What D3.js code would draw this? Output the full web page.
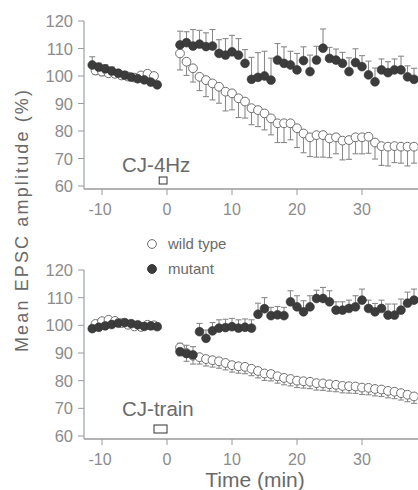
<!DOCTYPE html>
<html>
<head>
<meta charset="utf-8">
<script src="https://cdn.jsdelivr.net/npm/d3@7"></script>
<style>
  html, body { margin: 0; padding: 0; background: #fff; }
  svg { display: block; font-family: "Liberation Sans", Arial, Helvetica, sans-serif; }
</style>
</head>
<body>
<svg id="stage"></svg>
<script>
/* ---------- data ---------- */

const x_ticks = [-10, 0, 10, 20, 30];
const y_ticks = [60, 70, 80, 90, 100, 110, 120];

// baseline period, one point per minute
const pre_t_mut = [-11.5, -10.5, -9.5, -8.5, -7.5, -6.5, -5.5, -4.5, -3.5, -2.5, -1.5];
const pre_t_wt = [-11, -10, -9, -8, -7, -6, -5, -4, -3, -2];
// after conditioning
const post_t = [2, 3, 4, 5, 6, 7, 8, 9, 10, 11, 12, 13, 14, 15, 16, 17, 18, 19, 20,
  21, 22, 23, 24, 25, 26, 27, 28, 29, 30, 31, 32, 33, 34, 35, 36, 37, 38];

// CJ-4Hz
const hz_mut_pre = [104, 103.2, 102.6, 101.8, 101, 100.3, 99.6, 99, 98.6, 97.8, 96.8];
const hz_mut_pre_err = [3, 1.5, 1.5, 1.5, 1.2, 1.2, 1.2, 1.2, 1.2, 1.2, 1.2];
const hz_wt_pre = [102, 101.6, 101, 100.8, 100.2, 99.8, 99.4, 100.2, 100.8, 100];
const hz_wt_pre_err = [1.5, 1.5, 1.2, 1.2, 1.2, 1.2, 1.2, 1.5, 1.5, 1.5];
const hz_mut_post = [111.3, 112.1, 110.9, 111.6, 110.7, 110.9, 108.2, 107.6, 108.8, 107.6,
  104.6, 98.8, 99.5, 100, 98.5, 105.8, 104.6, 104, 102.2, 105.6, 101.6, 105.8, 110.1, 106.4,
  105.8, 104.6, 101.6, 104.9, 103.4, 100.4, 97.9, 102.2, 101.2, 102.2, 102.2, 99.7, 98.8];
const hz_mut_post_err = [5, 4, 6, 5, 5, 6, 5, 6, 6, 6, 5, 8, 9, 9, 8, 6, 6, 5, 6, 5, 6, 5,
  7, 4, 4, 4, 5, 5, 4, 5, 5, 4, 4, 4, 5, 4, 4];
const hz_wt_post = [108.2, 105.2, 102.8, 99.7, 98.5, 97.3, 96.1, 94.3, 93.7, 91.9, 90.7,
  88.3, 87.6, 86.4, 84.6, 82.8, 82.8, 82.8, 81, 79.1, 77.7, 78.5, 78.5, 77.3, 77.7, 76.5,
  76.7, 77.7, 77.7, 77.9, 75.8, 74.5, 74.3, 74.5, 74.3, 74.3, 74.3];
const hz_wt_post_err = [6, 5, 5, 5, 6, 6, 6, 7, 6, 7, 6, 6, 6, 6, 6, 7, 7, 6, 7, 7, 7, 8,
  8, 7, 6, 7, 7, 6, 6, 6, 6, 7, 7, 6, 6, 7, 6];

// CJ-train
const tr_mut_pre = [98.8, 99.3, 99.8, 100.3, 100.8, 101, 100.6, 100.2, 99.6, 99.8, 99.5];
const tr_mut_pre_err = [1, 1, 1, 1, 1, 1, 1, 1, 1, 1, 1];
const tr_wt_pre = [100.5, 101.5, 102, 101.6, 100.8, 100.2, 99.6, 99.4, 100.2, 100];
const tr_wt_pre_err = [1, 1, 1, 1, 1, 1, 1, 1, 1, 1];
const tr_mut_post = [90.5, 89.8, 89.3, 97.7, 95.3, 98, 99, 99.2, 99.5, 99, 99.3, 99, 104,
  106, 103.5, 103.8, 103.5, 108.5, 106.7, 104.9, 106.7, 109.7, 109.7, 108.5, 105.5, 105.5,
  106.1, 106.7, 109.1, 106.1, 104.9, 106.1, 103.7, 103.7, 105.5, 108, 109.1];
const tr_mut_post_err = [3, 3, 3, 3, 3, 3, 3, 3, 3, 3, 3, 3, 4, 4, 3, 3, 3, 4, 4, 4, 4, 3,
  4, 4, 3, 3, 3, 4, 4, 3, 3, 3, 4, 4, 4, 4, 4];
const tr_wt_post = [92, 90, 89, 88.5, 87.8, 87.4, 87, 86.4, 85.6, 85.2, 85, 84.3, 83.5,
  82.6, 82.4, 81.6, 81, 80.6, 80, 79.8, 79.6, 79.1, 79, 78.7, 78.5, 78.1, 78, 77.9, 77.5,
  77.4, 77, 76.8, 76.3, 76, 75.5, 74.9, 74.3];
const tr_wt_post_err = [3, 3, 3, 2.5, 2.5, 2.5, 2.5, 2.5, 2.5, 2.5, 2.5, 2.5, 2.5, 2.5,
  2.5, 2.5, 2.5, 2.5, 2.5, 2.5, 2.5, 2.5, 2.5, 2.5, 2.5, 2.5, 2.5, 2.5, 2.5, 2.5, 2.5, 2.5,
  2.5, 2.5, 2.5, 2.5, 2.5];

/* ---------- setup ---------- */

const width = 418;
const height = 490;

const svg = d3.select("#stage")
  .attr("width", width)
  .attr("height", height);

const x = d3.scaleLinear().domain([-10, 30]).range([102, 362]);

const axis_col = "#9a9a9a";
const tick_text_col = "#8c8c8c";
const label_col = "#6a6a6a";
const dot_r = 4.4;

function zip(ts, vs, es) {
  return ts.map((t, i) => ({ t, v: vs[i], e: es[i] }));
}

/* ---------- one panel ---------- */

function panel(cfg) {
  const y = d3.scaleLinear().domain([60, 120]).range([cfg.y60, cfg.y120]);
  const g = svg.append("g");

  // axes
  g.append("line")
    .attr("x1", 84).attr("x2", 84)
    .attr("y1", y(120)).attr("y2", cfg.base)
    .attr("stroke", "#98a2aa").attr("stroke-width", 1.2);
  g.append("line")
    .attr("x1", 84).attr("x2", width)
    .attr("y1", cfg.base).attr("y2", cfg.base)
    .attr("stroke", axis_col).attr("stroke-width", 1.4);

  g.selectAll(".ytick").data(y_ticks).join("line")
    .attr("x1", 78).attr("x2", 84)
    .attr("y1", d => y(d)).attr("y2", d => y(d))
    .attr("stroke", axis_col).attr("stroke-width", 1);
  g.selectAll(".ylab").data(y_ticks).join("text")
    .attr("x", 73).attr("y", d => y(d) + 6)
    .attr("text-anchor", "end")
    .attr("font-size", 16.5)
    .attr("fill", tick_text_col)
    .text(d => d);

  g.selectAll(".xtick").data(x_ticks).join("line")
    .attr("x1", d => x(d)).attr("x2", d => x(d))
    .attr("y1", cfg.base).attr("y2", cfg.base + 6)
    .attr("stroke", axis_col).attr("stroke-width", 1);
  g.selectAll(".xlab").data(x_ticks).join("text")
    .attr("x", d => x(d) - (d < 0 ? 2 : 0)).attr("y", cfg.base + 26)
    .attr("text-anchor", "middle")
    .attr("font-size", 16)
    .attr("fill", tick_text_col)
    .text(d => d < 0 ? "-" + Math.abs(d) : d);

  // stimulation marker
  g.append("rect")
    .attr("x", x(cfg.stim[0])).attr("y", cfg.stim_y)
    .attr("width", x(cfg.stim[1]) - x(cfg.stim[0])).attr("height", cfg.stim_h)
    .attr("fill", "#fff").attr("stroke", "#333").attr("stroke-width", 1);

  // condition label
  g.append("text")
    .attr("x", 122).attr("y", cfg.label_y)
    .attr("font-size", 20.5)
    .attr("fill", label_col)
    .text(cfg.label);

  const mut = zip(pre_t_mut, cfg.mut_pre, cfg.mut_pre_err)
    .concat(zip(post_t, cfg.mut_post, cfg.mut_post_err));
  const wt = zip(pre_t_wt, cfg.wt_pre, cfg.wt_pre_err)
    .concat(zip(post_t, cfg.wt_post, cfg.wt_post_err));

  const bar_col = "#8a8a8a";

  function error_bars(data, dir) {
    const eg = g.append("g").attr("stroke", bar_col).attr("stroke-width", 1.1);
    eg.selectAll("line.s").data(data).join("line")
      .attr("x1", d => x(d.t)).attr("x2", d => x(d.t))
      .attr("y1", d => y(d.v)).attr("y2", d => y(d.v + dir * d.e));
    eg.selectAll("line.c").data(data).join("line")
      .attr("x1", d => x(d.t) - 3).attr("x2", d => x(d.t) + 3)
      .attr("y1", d => y(d.v + dir * d.e)).attr("y2", d => y(d.v + dir * d.e));
  }

  error_bars(wt, -1);
  error_bars(mut, 1);

  g.append("g").selectAll("circle").data(wt).join("circle")
    .attr("cx", d => x(d.t)).attr("cy", d => y(d.v)).attr("r", dot_r)
    .attr("fill", "#fff").attr("stroke", "#6e6e6e").attr("stroke-width", 1);
  g.append("g").selectAll("circle").data(mut).join("circle")
    .attr("cx", d => x(d.t)).attr("cy", d => y(d.v)).attr("r", dot_r)
    .attr("fill", "#3c3c3c").attr("stroke", "#333").attr("stroke-width", 0.6);
}

panel({
  y60: 186, y120: 21, base: 189,
  label: "CJ-4Hz", label_y: 172,
  stim: [-1.2, 0], stim_y: 177, stim_h: 7,
  mut_pre: hz_mut_pre, mut_pre_err: hz_mut_pre_err,
  wt_pre: hz_wt_pre, wt_pre_err: hz_wt_pre_err,
  mut_post: hz_mut_post, mut_post_err: hz_mut_post_err,
  wt_post: hz_wt_post, wt_post_err: hz_wt_post_err
});

panel({
  y60: 436, y120: 270, base: 439,
  label: "CJ-train", label_y: 416,
  stim: [-2, 0], stim_y: 425, stim_h: 8,
  mut_pre: tr_mut_pre, mut_pre_err: tr_mut_pre_err,
  wt_pre: tr_wt_pre, wt_pre_err: tr_wt_pre_err,
  mut_post: tr_mut_post, mut_post_err: tr_mut_post_err,
  wt_post: tr_wt_post, wt_post_err: tr_wt_post_err
});

/* ---------- legend & titles ---------- */

svg.append("circle").attr("cx", 152).attr("cy", 244).attr("r", dot_r)
  .attr("fill", "#fff").attr("stroke", "#6e6e6e");
svg.append("text").attr("x", 168).attr("y", 249)
  .attr("font-size", 15).attr("fill", label_col).text("wild type");
svg.append("circle").attr("cx", 152).attr("cy", 269).attr("r", dot_r)
  .attr("fill", "#3c3c3c").attr("stroke", "#333");
svg.append("text").attr("x", 168).attr("y", 274)
  .attr("font-size", 15).attr("fill", label_col).text("mutant");

svg.append("text")
  .attr("transform", "translate(28, 221) rotate(-90)")
  .attr("text-anchor", "middle")
  .attr("font-size", 18)
  .attr("textLength", 262)
  .attr("lengthAdjust", "spacing")
  .attr("fill", label_col)
  .text("Mean EPSC amplitude (%)");

svg.append("text")
  .attr("x", 255).attr("y", 487)
  .attr("text-anchor", "middle")
  .attr("font-size", 21)
  .attr("fill", label_col)
  .text("Time (min)");
</script>
</body>
</html>
